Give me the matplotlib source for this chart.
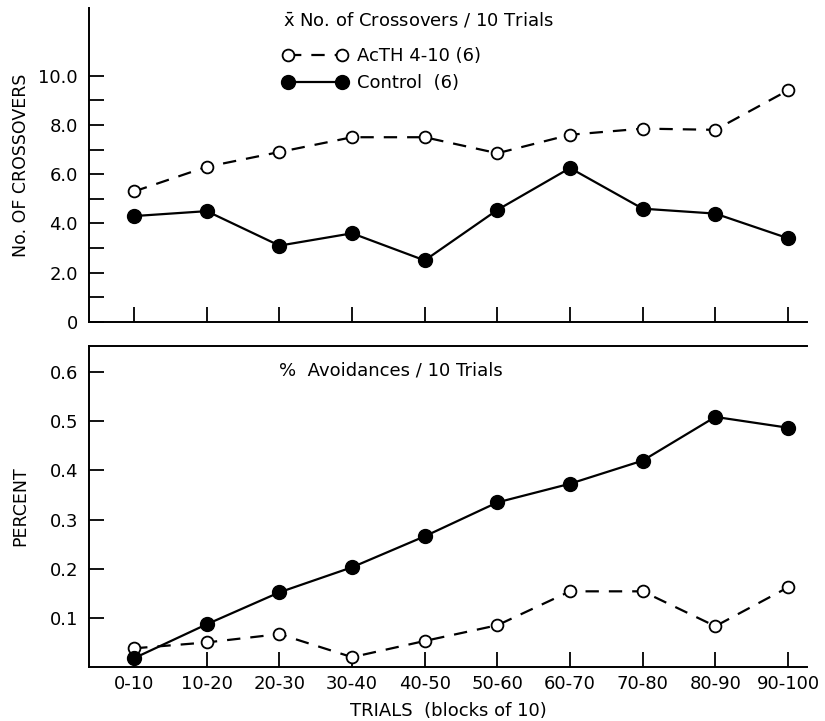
import matplotlib
matplotlib.use("Agg")
import matplotlib.pyplot as plt
from matplotlib.lines import Line2D

plt.rcParams['font.family'] = ['DejaVu Sans']
plt.rcParams['font.size'] = 13

# data
blocks = ["0-10", "10-20", "20-30", "30-40", "40-50",
          "50-60", "60-70", "70-80", "80-90", "90-100"]
cross_acth = [5.3, 6.3, 6.9, 7.5, 7.5, 6.85, 7.6, 7.85, 7.8, 9.4]
cross_ctrl = [4.3, 4.5, 3.1, 3.6, 2.5, 4.55, 6.25, 4.6, 4.4, 3.4]
avoid_acth = [0.038, 0.05, 0.067, 0.02, 0.053, 0.085, 0.154, 0.154, 0.083, 0.162]
avoid_ctrl = [0.018, 0.087, 0.152, 0.203, 0.266, 0.335, 0.373, 0.42, 0.509, 0.487]

x = list(range(len(blocks)))

fig = plt.figure(figsize=(8.25, 7.21), dpi=100)
ax1 = fig.add_axes([0.108, 0.5534, 0.870, 0.436])
ax2 = fig.add_axes([0.108, 0.0749, 0.870, 0.445])

dash = (0, (6, 4.5))
open_kw = dict(color="black", lw=1.6, ls=dash, marker="o", ms=8.5,
               mfc="white", mec="black", mew=1.3)
fill_kw = dict(color="black", lw=1.6, ls="-", marker="o", ms=10,
               mfc="black", mec="black")

# top panel: crossovers
ax1.plot(x, cross_acth, **open_kw)
ax1.plot(x, cross_ctrl, **fill_kw)
ax1.set_xlim(-0.62, 9.26)
ax1.set_ylim(0, 12.76)
ax1.set_yticks([0, 2, 4, 6, 8, 10])
ax1.set_yticklabels(["0", "2.0", "4.0", "6.0", "8.0", "10.0"])
ax1.set_yticks([1, 3, 5, 7, 9], minor=True)
ax1.set_xticks(x)
ax1.set_xticklabels([])
ax1.spines["top"].set_visible(False)
ax1.spines["right"].set_visible(False)
ax1.set_ylabel("No. OF CROSSOVERS", fontsize=12.5)
ax1.yaxis.set_label_coords(-0.083, 0.5)

ax1.text(0.27, 0.962, r"$\bar{\mathrm{x}}$" + " No. of Crossovers / 10 Trials",
         transform=ax1.transAxes, ha="left", va="center")
handles = [Line2D([], [], **open_kw), Line2D([], [], **fill_kw)]
ax1.legend(handles, ["AcTH 4-10 (6)", "Control  (6)"], frameon=False,
           loc="upper left", bbox_to_anchor=(0.27, 0.875), numpoints=2,
           handlelength=3.6, handletextpad=0.5, labelspacing=0.5,
           borderaxespad=0, borderpad=0)

# bottom panel: avoidances
ax2.plot(x, avoid_acth, **open_kw)
ax2.plot(x, avoid_ctrl, **fill_kw)
ax2.set_xlim(-0.62, 9.26)
ax2.set_ylim(0, 0.653)
ax2.set_yticks([0.1, 0.2, 0.3, 0.4, 0.5, 0.6])
ax2.set_yticklabels(["0.1", "0.2", "0.3", "0.4", "0.5", "0.6"])
ax2.set_xticks(x)
ax2.set_xticklabels(blocks)
ax2.spines["right"].set_visible(False)
ax2.set_ylabel("PERCENT", fontsize=12.5)
ax2.yaxis.set_label_coords(-0.083, 0.5)
ax2.set_xlabel("TRIALS  (blocks of 10)", labelpad=6)
ax2.text(0.264, 0.925, "%  Avoidances / 10 Trials", transform=ax2.transAxes,
         ha="left", va="center")

for ax in (ax1, ax2):
    for s in ax.spines.values():
        s.set_linewidth(1.4)
    ax.tick_params(direction="in", length=11, width=1.3, pad=8)
    ax.tick_params(axis="y", which="minor", direction="in", length=11, width=1.3)
    ax.tick_params(axis="x", pad=6)

fig.savefig("out.png", dpi=100)
